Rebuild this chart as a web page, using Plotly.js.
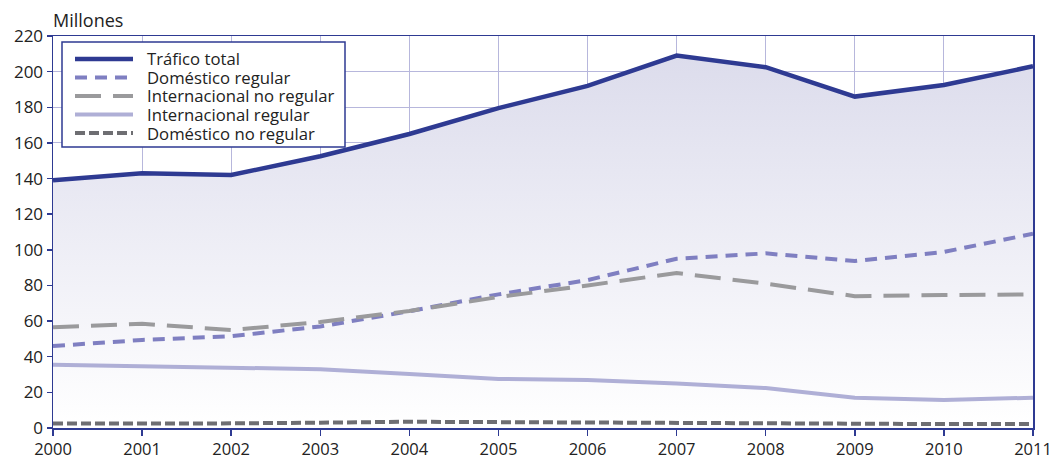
<!DOCTYPE html>
<html>
<head>
<meta charset="utf-8">
<script src="https://cdn.plot.ly/plotly-3.0.1.min.js"></script>
<style>html,body{margin:0;padding:0;background:#fff;}#chart{width:1050px;height:461px;}</style>
</head>
<body>
<div id="chart"></div>
<script>
const years = [2000,2001,2002,2003,2004,2005,2006,2007,2008,2009,2010,2011];
const traficoTotal = [139,143,142,152.5,165,179.5,192,209,202.5,186,192.5,203];
const domesticoRegular = [46,49.4,51.5,57,65.5,75,83,95,98,93.7,98.8,109];
const internacionalNoRegular = [56.5,58.5,55,59.5,65.7,73.5,80,87,81,74,74.6,75];
const internacionalRegular = [35.5,34.6,33.7,33,30.3,27.5,27,25,22.4,17,15.7,17];
const domesticoNoRegular = [2.5,2.3,2.6,3,3.5,3.3,3,3,2.5,2.2,2.2,2.2];
const yTicks = [0,20,40,60,80,100,120,140,160,180,200,220];

const traces = [
  {x: years, y: traficoTotal, name: 'Tráfico total', type: 'scatter', mode: 'lines',
   line: {color: '#2e3a92', width: 4.5}, fill: 'tozeroy',
   fillgradient: {type: 'vertical', start: 0, stop: 210, colorscale: [[0,'#ffffff'],[1,'#dcdcec']]}},
  {x: years, y: domesticoRegular, name: 'Doméstico regular', type: 'scatter', mode: 'lines',
   line: {color: '#7f7fc1', width: 4, dash: '12px,8px'}},
  {x: years, y: internacionalNoRegular, name: 'Internacional no regular', type: 'scatter', mode: 'lines',
   line: {color: '#9a9a9c', width: 4, dash: '26px,12px'}},
  {x: years, y: internacionalRegular, name: 'Internacional regular', type: 'scatter', mode: 'lines',
   line: {color: '#afafd6', width: 4}},
  {x: years, y: domesticoNoRegular, name: 'Doméstico no regular', type: 'scatter', mode: 'lines',
   line: {color: '#6e6e72', width: 4, dash: '10px,4px'}}
];
traces.forEach(t => t.showlegend = false);

// plot area in pixels
const M = {l: 53, r: 17, t: 36, b: 33};
const W = 1050, H = 461;
const PW = W - M.l - M.r, PH = H - M.t - M.b;
const px = x => (x - M.l) / PW;
const py = y => (H - M.b - y) / PH;

// custom compact legend box (pixel-placed), entries taken from traces
const shapes = [{type: 'rect', xref: 'paper', yref: 'paper',
  x0: px(62), x1: px(345), y0: py(147), y1: py(42),
  line: {color: '#2e3a92', width: 1.5}, fillcolor: '#ffffff', layer: 'above'}];
const annotations = [{text: 'Millones', xref: 'paper', yref: 'paper', x: -0.002, y: 1.0,
  xanchor: 'left', yanchor: 'bottom', yshift: 2, showarrow: false,
  font: {size: 18, color: '#222'}}];
const rowY = [59, 77.5, 96, 114.5, 133];
traces.forEach((t, i) => {
  shapes.push({type: 'line', xref: 'paper', yref: 'paper',
    x0: px(75), x1: px(133), y0: py(rowY[i]), y1: py(rowY[i]),
    line: {color: t.line.color, width: t.line.width, dash: t.line.dash || 'solid'}, layer: 'above'});
  annotations.push({text: t.name, xref: 'paper', yref: 'paper', x: px(145), y: py(rowY[i]),
    xanchor: 'left', yanchor: 'middle', showarrow: false,
    font: {size: 16.7, color: '#222'}});
});

const layout = {
  width: W, height: H,
  margin: M,
  paper_bgcolor: '#ffffff', plot_bgcolor: '#ffffff',
  font: {family: 'Open Sans, Noto Sans, sans-serif', size: 17, color: '#222'},
  showlegend: false,
  xaxis: {range: [2000, 2011], tickvals: years, ticktext: years.map(String),
          showgrid: true, gridcolor: '#b7b7dc', gridwidth: 1,
          showline: true, linecolor: '#2e3a92', linewidth: 1.5, mirror: true,
          ticks: 'outside', ticklen: 6, tickcolor: '#2e3a92', tickwidth: 1.5,
          ticklabeloverflow: 'allow', ticklabelstandoff: 0,
          tickfont: {size: 16.5},
          zeroline: false, fixedrange: true},
  yaxis: {range: [0, 220], tickvals: yTicks,
          showgrid: true, gridcolor: '#b7b7dc', gridwidth: 1,
          showline: true, linecolor: '#2e3a92', linewidth: 1.5, mirror: true,
          ticks: 'outside', ticklen: 5, tickcolor: '#2e3a92', tickwidth: 1.5,
          zeroline: false, fixedrange: true},
  shapes: shapes,
  annotations: annotations
};

Plotly.newPlot('chart', traces, layout, {displayModeBar: false, staticPlot: true});
</script>
</body>
</html>
